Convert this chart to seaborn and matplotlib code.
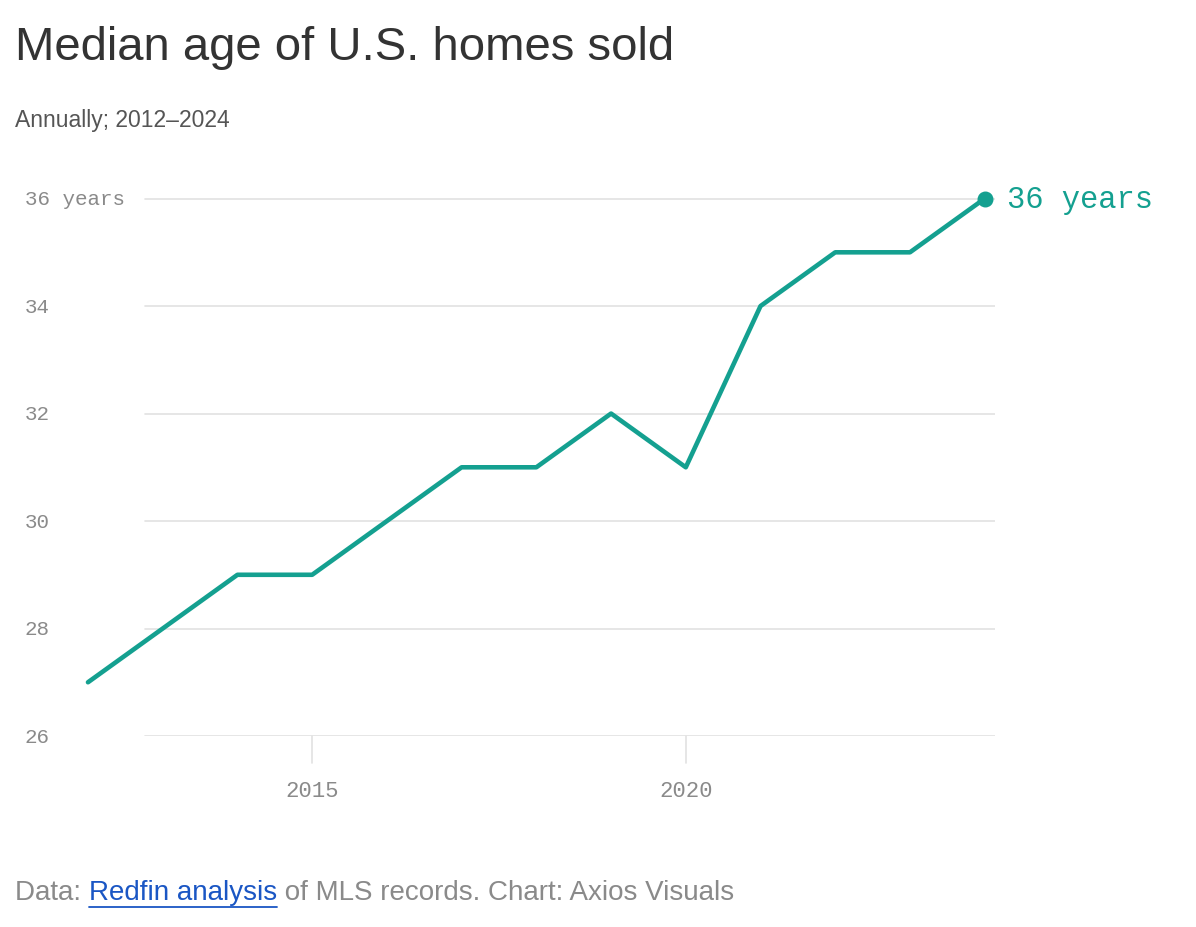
import matplotlib
matplotlib.use("Agg")
import matplotlib.pyplot as plt
import matplotlib.transforms as mtransforms
import seaborn as sns
import pandas as pd

years = [2012, 2013, 2014, 2015, 2016, 2017, 2018, 2019, 2020, 2021, 2022, 2023, 2024]
median_age = [27, 28, 29, 29, 30, 31, 31, 32, 31, 34, 35, 35, 36]
y_ticks = [26, 28, 30, 32, 34, 36]
x_ticks = [2015, 2020]

teal = "#14a090"
grey = "#8a8a8a"
mono = "Liberation Mono"

sns.set_style("white")
plt.rcParams["font.family"] = ["Liberation Sans", "DejaVu Sans"]

df = pd.DataFrame({"year": years, "age": median_age})

fig = plt.figure(figsize=(11.96, 9.28), dpi=100)
ax = fig.add_axes([0.0167, 0.2058, 0.815, 0.589])
ax.set_xlim(2011.09, 2024.134)
ax.set_ylim(26, 36.17)

# gridlines
for t in y_ticks:
    ax.axhline(t, xmin=0.128, xmax=1, color="#e2e2e2", lw=1.2, zorder=0)

trans = mtransforms.blended_transform_factory(ax.transAxes, ax.transData)
for t in y_ticks:
    lab = f"{t} years" if t == 36 else str(t)
    ax.text(0.005, t, lab, transform=trans, ha="left", va="center",
            fontsize=15, color=grey, family=mono)

xtrans = mtransforms.blended_transform_factory(ax.transData, ax.transAxes)
for t in x_ticks:
    ax.plot([t, t], [0, -0.05], transform=xtrans, color="#e2e2e2", lw=1.2, clip_on=False)
    ax.text(t, -0.1, str(t), transform=xtrans, ha="center", va="center",
            fontsize=16, color=grey, family=mono)

sns.lineplot(data=df, x="year", y="age", ax=ax, color=teal, lw=3.3, zorder=3)
last = df.iloc[-1]
ax.scatter([last["year"]], [last["age"]], s=110, color=teal, zorder=4, clip_on=False)
ax.annotate(f"{int(last['age'])} years", (last["year"], last["age"]), xytext=(16, 0),
            textcoords="offset points", ha="left", va="center", fontsize=22,
            color=teal, family=mono, annotation_clip=False)

ax.set_xticks([])
ax.set_yticks([])
ax.set_xlabel("")
ax.set_ylabel("")
for s in ax.spines.values():
    s.set_visible(False)

fig.text(15 / 1196, 1 - 48 / 928, "Median age of U.S. homes sold", fontsize=34,
         color="#333333", ha="left", va="center")
fig.text(15 / 1196, 1 - 120 / 928, "Annually; 2012–2024", fontsize=16.5,
         color="#555555", ha="left", va="center")

fy = 1 - 893 / 928
fs = 20
t1 = fig.text(15 / 1196, fy, "Data: ", fontsize=fs, color=grey, ha="left", va="center")
fig.canvas.draw()
r = fig.canvas.get_renderer()
bb = t1.get_window_extent(r)
t2 = fig.text(bb.x1 / 1196, fy, "Redfin analysis", fontsize=fs, color="#1a56c4",
              ha="left", va="center")
bb2 = t2.get_window_extent(r)
fig.add_artist(plt.Line2D([bb2.x0 / 1196, bb2.x1 / 1196], [bb2.y0 / 928 - 0.002] * 2,
                          color="#1a56c4", lw=1.3))
fig.text(bb2.x1 / 1196, fy, " of MLS records. Chart: Axios Visuals", fontsize=fs,
         color=grey, ha="left", va="center")

fig.savefig("out.png", dpi=100)
